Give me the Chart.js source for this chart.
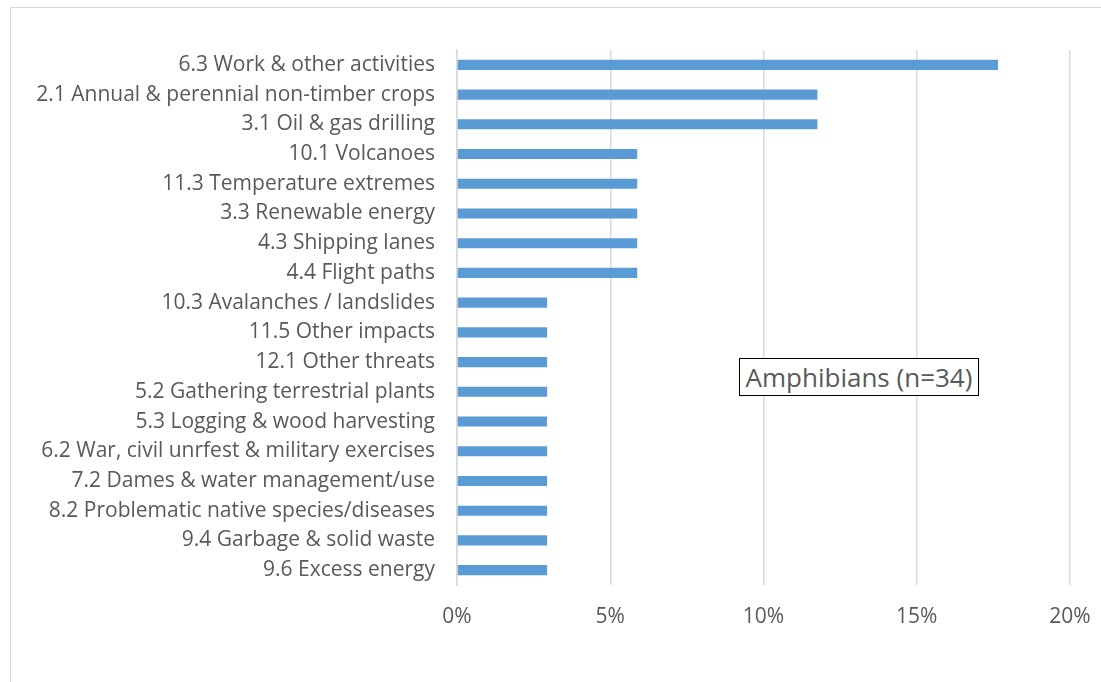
<!DOCTYPE html>
<html>
<head>
<meta charset="utf-8">
<script src="https://cdn.jsdelivr.net/npm/chart.js@4"></script>
<style>
  html, body { margin: 0; padding: 0; background: #fff; overflow: hidden; }
  #wrap { position: relative; width: 1101px; height: 682px; }
  #frame { position: absolute; left: 10px; top: 7px; width: 1200px; height: 800px; border: 1px solid #d9d9d9; }
  #note {
    position: absolute; left: 739px; top: 358px; width: 238px; height: 36px;
    border: 1.5px solid #000; font-family: 'Open Sans', sans-serif; font-size: 26px; color: #595959;
    line-height: 36px; text-align: center; background: #fff; white-space: nowrap;
  }
</style>
</head>
<body>
<div id="wrap">
  <div id="frame"></div>
  <canvas id="threatsChart" width="1101" height="682"></canvas>
  <div id="note">Amphibians (n=34)</div>
</div>
<script>
const threats = [
  '6.3 Work & other activities',
  '2.1 Annual & perennial non-timber crops',
  '3.1 Oil & gas drilling',
  '10.1 Volcanoes',
  '11.3 Temperature extremes',
  '3.3 Renewable energy',
  '4.3 Shipping lanes',
  '4.4 Flight paths',
  '10.3 Avalanches / landslides',
  '11.5 Other impacts',
  '12.1 Other threats',
  '5.2 Gathering terrestrial plants',
  '5.3 Logging & wood harvesting',
  '6.2 War, civil unrfest & military exercises',
  '7.2 Dames & water management/use',
  '8.2 Problematic native species/diseases',
  '9.4 Garbage & solid waste',
  '9.6 Excess energy'
];
// share of species affected, in %
const shares = [17.65, 11.76, 11.76, 5.88, 5.88, 5.88, 5.88, 5.88,
  2.94, 2.94, 2.94, 2.94, 2.94, 2.94, 2.94, 2.94, 2.94, 2.94];
const xTicks = [0, 5, 10, 15, 20];

const ctx = document.getElementById('threatsChart').getContext('2d');
new Chart(ctx, {
  type: 'bar',
  data: {
    labels: threats,
    datasets: [{
      label: 'Amphibians',
      data: shares,
      backgroundColor: '#5B9BD5',
      borderWidth: 0,
      barPercentage: 0.68,
      categoryPercentage: 0.5
    }]
  },
  options: {
    indexAxis: 'y',
    responsive: false,
    animation: false,
    layout: { padding: { left: 0, right: 31, top: 50, bottom: 47 } },
    plugins: {
      legend: { display: false },
      tooltip: { enabled: false }
    },
    scales: {
      x: {
        min: 0,
        max: 20,
        afterBuildTicks: axis => { axis.ticks = xTicks.map(v => ({ value: v })); },
        afterFit: axis => { axis.height = 50; axis.paddingRight = 0; axis.paddingLeft = 0; },
        grid: { color: '#d9d9d9', lineWidth: 1.5, drawTicks: false },
        border: { display: false },
        ticks: {
          padding: 19,
          color: '#595959',
          font: { family: 'Open Sans', size: 21 },
          callback: v => v + '%'
        }
      },
      y: {
        afterFit: axis => { axis.width = 457; },
        grid: { display: false, drawTicks: false },
        border: { display: true, color: '#d9d9d9', width: 1.5 },
        ticks: {
          padding: 22,
          autoSkip: false,
          color: '#595959',
          font: { family: 'Open Sans', size: 21 }
        }
      }
    }
  }
});
</script>
</body>
</html>
